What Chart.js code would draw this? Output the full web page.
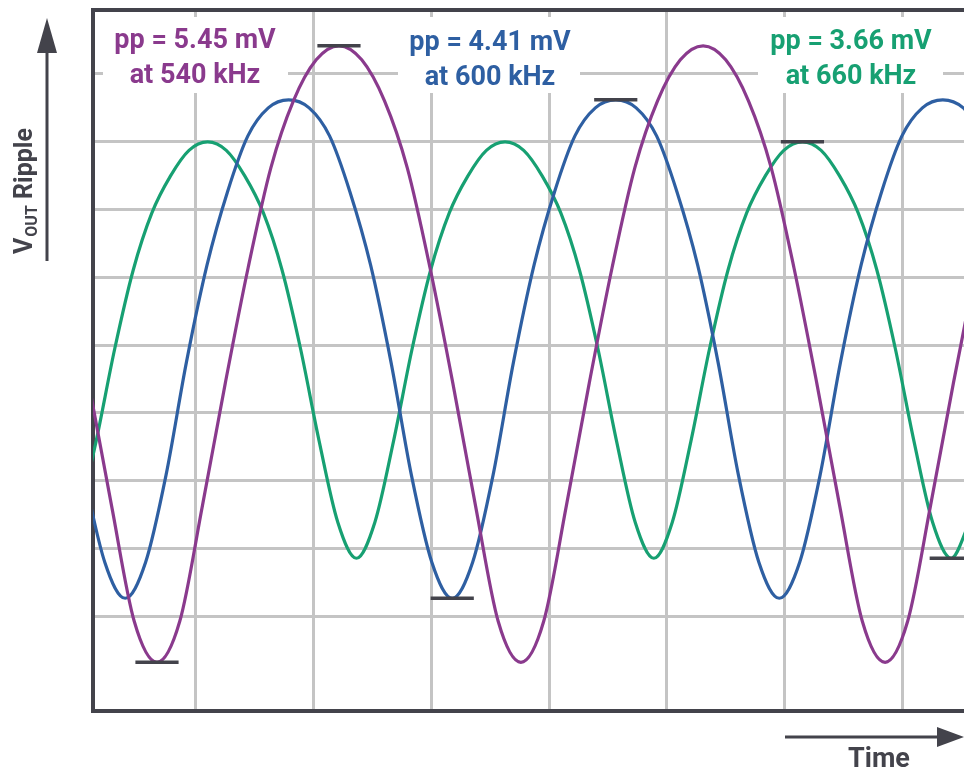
<!DOCTYPE html>
<html>
<head>
<meta charset="utf-8">
<script src="https://cdn.jsdelivr.net/npm/chart.js@4.4.1/dist/chart.umd.min.js"></script>
<style>
  html, body { margin: 0; padding: 0; background: #fff; }
</style>
</head>
<body>
<canvas id="ripple" width="964" height="772"></canvas>
<script>
let purpleT = [-0.062, 0.054, 0.170, 0.286, 0.402, 0.518, 0.634, 0.750, 0.866, 0.982, 1.097, 1.213, 1.329, 1.445, 1.561, 1.677,
  1.793, 1.909, 2.024, 2.140, 2.256, 2.372, 2.488, 2.604, 2.720, 2.836, 2.952, 3.068, 3.184, 3.299, 3.415, 3.531, 3.647, 3.763,
  3.879, 3.995, 4.111, 4.226, 4.343, 4.459, 4.574];
let purpleV = [0.682, -0.337, -1.417, -2.445,
  -2.808, -2.445, -1.417, -0.337, 0.682, 1.568, 2.161, 2.524, 2.648, 2.524, 2.161, 1.568, 0.682, -0.337, -1.417, -2.445,
  -2.808, -2.445, -1.417, -0.337, 0.682, 1.568, 2.161, 2.524, 2.648, 2.524, 2.161, 1.568, 0.682, -0.337, -1.417, -2.445,
  -2.808, -2.445, -1.417, -0.337, 0.682];

let blueT = [-0.072, 0.032, 0.136, 0.240, 0.344, 0.448, 0.552, 0.657, 0.761, 0.865, 0.969, 1.073, 1.177, 1.281, 1.385, 1.490,
  1.594, 1.698, 1.802, 1.906, 2.010, 2.114, 2.218, 2.323, 2.427, 2.531, 2.635, 2.739, 2.843, 2.947, 3.051, 3.156, 3.260, 3.364,
  3.468, 3.572, 3.676, 3.780, 3.884, 3.989, 4.093, 4.197, 4.301, 4.405, 4.509, 4.614];
let blueV = [-0.151, -1.151, -1.922,
  -2.241, -1.922, -1.151, -0.151, 0.709, 1.355, 1.851, 2.099, 2.170, 2.099, 1.851, 1.355, 0.709, -0.151, -1.151, -1.922,
  -2.241, -1.922, -1.151, -0.151, 0.709, 1.355, 1.851, 2.099, 2.170, 2.099, 1.851, 1.355, 0.709, -0.151, -1.151, -1.922,
  -2.241, -1.922, -1.151, -0.151, 0.709, 1.355, 1.851, 2.099, 2.170, 2.099, 1.851];

let greenT = [-0.003, 0.092, 0.187, 0.281, 0.376, 0.471, 0.565, 0.660, 0.755, 0.849, 0.944, 1.039, 1.133, 1.228, 1.323, 1.418,
  1.512, 1.607, 1.702, 1.796, 1.891, 1.986, 2.080, 2.175, 2.270, 2.364, 2.459, 2.554, 2.648, 2.743, 2.838, 2.933, 3.027, 3.122,
  3.217, 3.311, 3.406, 3.501, 3.595, 3.690, 3.785, 3.879, 3.974, 4.069, 4.163, 4.258, 4.353, 4.448, 4.542];
let greenV = [-1.568, -0.850, -0.031, 0.664, 1.169, 1.497, 1.723,
  1.798, 1.723, 1.497, 1.169, 0.664, -0.031, -0.850, -1.568, -1.887, -1.568, -0.850, -0.031, 0.664, 1.169, 1.497, 1.723,
  1.798, 1.723, 1.497, 1.169, 0.664, -0.031, -0.850, -1.568, -1.887, -1.568, -0.850, -0.031, 0.664, 1.169, 1.497, 1.723,
  1.798, 1.723, 1.497, 1.169, 0.664, -0.031, -0.850, -1.568, -1.887, -1.568];

// min / max marks
let markerT = [0.402, 1.329, 1.906, 2.739, 3.690, 4.448];
let markerV = [-2.808, 2.648, -2.241, 2.170, 1.798, -1.887];

// grid divisions (0.6 µs / 0.6 mV)
let xGrid = [0.6, 1.2, 1.8, 2.4, 3.0, 3.6, 4.2];
let yGrid = [-2.4, -1.8, -1.2, -0.6, 0, 0.6, 1.2, 1.8, 2.4];

let ppLabels = ['pp = 5.45 mV', 'pp = 4.41 mV', 'pp = 3.66 mV'];
let freqLabels = ['at 540 kHz', 'at 600 kHz', 'at 660 kHz'];

let colors = ['#8a3a8d', '#2e5fa2', '#17a072'];
let ink = '#43434b';

function pts(t, v) {
  return t.map((x, i) => ({ x: x, y: v[i] }));
}

let datasets = [
  { data: pts(purpleT, purpleV), borderColor: colors[0] },
  { data: pts(blueT, blueV), borderColor: colors[1] },
  { data: pts(greenT, greenV), borderColor: colors[2] }
].map(d => Object.assign(d, {
  borderWidth: 3.2,
  pointRadius: 0,
  cubicInterpolationMode: 'monotone',
  fill: false
}));

// short black bars at the measured extremes
markerT.forEach((t, i) => {
  datasets.unshift({
    data: [{ x: t - 0.11, y: markerV[i] }, { x: t + 0.11, y: markerV[i] }],
    borderColor: ink,
    borderWidth: 3.5,
    pointRadius: 0,
    tension: 0
  });
});

// white boxes behind the labels, labels, frame top, axis captions
let decor = {
  id: 'decor',
  beforeDatasetsDraw(chart) {
    let ctx = chart.ctx;
    ctx.save();
    ctx.fillStyle = '#fff';
    ctx.fillRect(103, 17, 185, 76);
    ctx.fillRect(398, 17, 182, 76);
    ctx.fillRect(758, 17, 185, 76);
    ctx.restore();
  },
  afterDraw(chart) {
    let ctx = chart.ctx;
    let a = chart.chartArea;
    ctx.save();
    // top of frame
    ctx.strokeStyle = ink;
    ctx.lineWidth = 4;
    ctx.beginPath();
    ctx.moveTo(a.left - 2, a.top);
    ctx.lineTo(964, a.top);
    ctx.stroke();

    // pp labels
    ctx.font = 'bold 27px Roboto';
    ctx.textAlign = 'center';
    ctx.textBaseline = 'alphabetic';
    let cx = [195, 490, 851];
    let base = [48, 50, 49];
    for (let i = 0; i < 3; i++) {
      ctx.fillStyle = colors[i];
      ctx.fillText(ppLabels[i], cx[i], base[i]);
      ctx.fillText(freqLabels[i], cx[i], base[i] + 35);
    }

    // y caption with arrow
    ctx.fillStyle = ink;
    ctx.strokeStyle = ink;
    ctx.lineWidth = 3;
    ctx.beginPath();
    ctx.moveTo(47, 261);
    ctx.lineTo(47, 50);
    ctx.stroke();
    ctx.beginPath();
    ctx.moveTo(37, 53);
    ctx.lineTo(57, 53);
    ctx.lineTo(47, 18);
    ctx.closePath();
    ctx.fill();

    ctx.save();
    ctx.translate(32, 254);
    ctx.rotate(-Math.PI / 2);
    ctx.textAlign = 'left';
    ctx.font = 'bold 25px Roboto';
    ctx.fillText('V', 0, 0);
    let w = ctx.measureText('V').width;
    ctx.font = 'bold 16px Roboto';
    ctx.fillText('OUT', w + 1, 5);
    w += ctx.measureText('OUT').width + 1;
    ctx.font = 'bold 25px Roboto';
    ctx.fillText(' Ripple', w, 0);
    ctx.restore();

    // time caption with arrow
    ctx.beginPath();
    ctx.moveTo(785, 737);
    ctx.lineTo(940, 737);
    ctx.stroke();
    ctx.beginPath();
    ctx.moveTo(937, 727);
    ctx.lineTo(937, 747);
    ctx.lineTo(964, 737);
    ctx.closePath();
    ctx.fill();
    ctx.font = 'bold 27px Roboto';
    ctx.textAlign = 'center';
    ctx.fillText('Time', 879, 767);
    ctx.restore();
  }
};

let rippleChart = new Chart(document.getElementById('ripple'), {
  type: 'line',
  data: { datasets: datasets },
  options: {
    responsive: false,
    animation: false,
    layout: { padding: { left: 93, top: 10, right: 0, bottom: 61 } },
    plugins: { legend: { display: false }, tooltip: { enabled: false } },
    scales: {
      x: {
        type: 'linear',
        min: 0.076,
        max: 4.513,
        afterBuildTicks: axis => { axis.ticks = xGrid.map(v => ({ value: v })); },
        ticks: { display: false },
        grid: { color: '#c4c4c4', lineWidth: 3, drawTicks: false },
        border: { display: true, color: ink, width: 4 }
      },
      y: {
        min: -3.239,
        max: 2.965,
        afterBuildTicks: axis => { axis.ticks = yGrid.map(v => ({ value: v })); },
        ticks: { display: false },
        grid: { color: '#c4c4c4', lineWidth: 3, drawTicks: false },
        border: { display: true, color: ink, width: 4 }
      }
    }
  },
  plugins: [decor]
});
</script>
</body>
</html>
